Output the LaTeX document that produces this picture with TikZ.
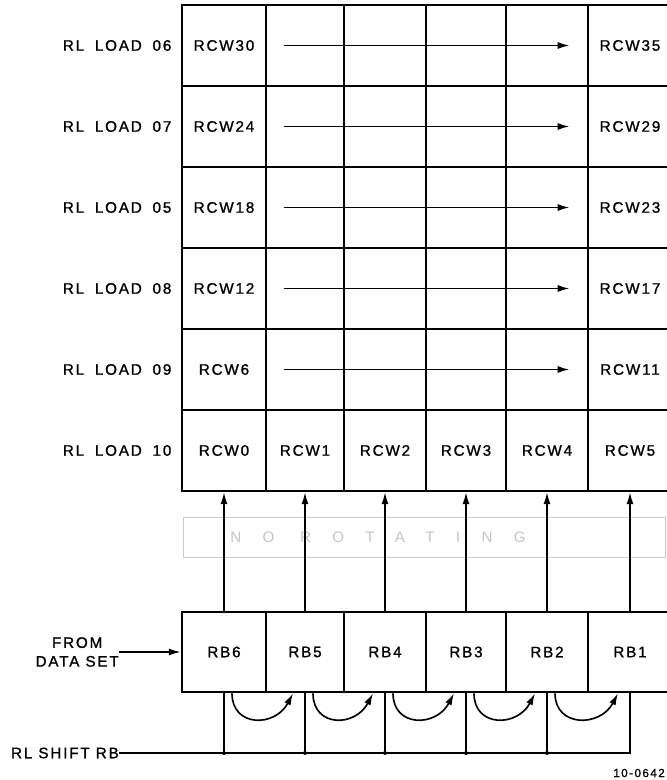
\documentclass[tikz,border=0pt]{standalone}
\usepackage{fontspec}
\usepackage{tikz}
\usetikzlibrary{arrows.meta,calc}
\newfontfamily\lblfont[LetterSpace=12,FakeBold=1.2]{Liberation Sans}
\newfontfamily\bandfont[LetterSpace=140]{Liberation Sans}

\begin{document}
\begin{tikzpicture}[x=0.03cm,y=-0.03cm,
  cell/.style={draw, line width=2.4pt, minimum height=2.43cm, inner sep=0pt,
    font=\lblfont\fontsize{13}{15}\selectfont},
  lbl/.style={inner sep=0pt, font=\lblfont\fontsize{13}{15}\selectfont},
  wire/.style={line width=1.4pt},
  arr/.style={line width=1.4pt, -{Latex[length=10pt,width=6pt]}}]
\useasboundingbox (0,0) rectangle (666,780);
% faint band between the registers
\node[draw=gray!40, line width=0.8pt, minimum width=14.46cm, minimum height=1.2cm] (band) at (424,537) {};
\node[inner sep=0pt, text=gray!45, font=\bandfont\fontsize{13}{15}\selectfont] (bandtxt) at (378,537) {NO ROTATING};
% RCW grid, top row first
\node[cell, minimum width=2.52cm] (rcw30) at (224,45.5) {RCW30};
\node[cell, minimum width=2.34cm] (rcw31) at (305,45.5) {};
\node[cell, minimum width=2.46cm] (rcw32) at (385,45.5) {};
\node[cell, minimum width=2.40cm] (rcw33) at (466,45.5) {};
\node[cell, minimum width=2.46cm] (rcw34) at (547,45.5) {};
\node[cell, minimum width=2.52cm] (rcw35) at (630,45.5) {RCW35};
\node[cell, minimum width=2.52cm] (rcw24) at (224,126.5) {RCW24};
\node[cell, minimum width=2.34cm] (rcw25) at (305,126.5) {};
\node[cell, minimum width=2.46cm] (rcw26) at (385,126.5) {};
\node[cell, minimum width=2.40cm] (rcw27) at (466,126.5) {};
\node[cell, minimum width=2.46cm] (rcw28) at (547,126.5) {};
\node[cell, minimum width=2.52cm] (rcw29) at (630,126.5) {RCW29};
\node[cell, minimum width=2.52cm] (rcw18) at (224,207.5) {RCW18};
\node[cell, minimum width=2.34cm] (rcw19) at (305,207.5) {};
\node[cell, minimum width=2.46cm] (rcw20) at (385,207.5) {};
\node[cell, minimum width=2.40cm] (rcw21) at (466,207.5) {};
\node[cell, minimum width=2.46cm] (rcw22) at (547,207.5) {};
\node[cell, minimum width=2.52cm] (rcw23) at (630,207.5) {RCW23};
\node[cell, minimum width=2.52cm] (rcw12) at (224,288.5) {RCW12};
\node[cell, minimum width=2.34cm] (rcw13) at (305,288.5) {};
\node[cell, minimum width=2.46cm] (rcw14) at (385,288.5) {};
\node[cell, minimum width=2.40cm] (rcw15) at (466,288.5) {};
\node[cell, minimum width=2.46cm] (rcw16) at (547,288.5) {};
\node[cell, minimum width=2.52cm] (rcw17) at (630,288.5) {RCW17};
\node[cell, minimum width=2.52cm] (rcw6) at (224,369.5) {RCW6};
\node[cell, minimum width=2.34cm] (rcw7) at (305,369.5) {};
\node[cell, minimum width=2.46cm] (rcw8) at (385,369.5) {};
\node[cell, minimum width=2.40cm] (rcw9) at (466,369.5) {};
\node[cell, minimum width=2.46cm] (rcw10) at (547,369.5) {};
\node[cell, minimum width=2.52cm] (rcw11) at (630,369.5) {RCW11};
\node[cell, minimum width=2.52cm] (rcw0) at (224,450.5) {RCW0};
\node[cell, minimum width=2.34cm] (rcw1) at (305,450.5) {RCW1};
\node[cell, minimum width=2.46cm] (rcw2) at (385,450.5) {RCW2};
\node[cell, minimum width=2.40cm] (rcw3) at (466,450.5) {RCW3};
\node[cell, minimum width=2.46cm] (rcw4) at (547,450.5) {RCW4};
\node[cell, minimum width=2.52cm] (rcw5) at (630,450.5) {RCW5};
% load strobes
\node[lbl, anchor=east] (load06) at ($(rcw30.west)+(-9,0)$) {RL\hspace{4pt} LOAD\hspace{4pt} 06};
\node[lbl, anchor=east] (load07) at ($(rcw24.west)+(-9,0)$) {RL\hspace{4pt} LOAD\hspace{4pt} 07};
\node[lbl, anchor=east] (load05) at ($(rcw18.west)+(-9,0)$) {RL\hspace{4pt} LOAD\hspace{4pt} 05};
\node[lbl, anchor=east] (load08) at ($(rcw12.west)+(-9,0)$) {RL\hspace{4pt} LOAD\hspace{4pt} 08};
\node[lbl, anchor=east] (load09) at ($(rcw6.west)+(-9,0)$) {RL\hspace{4pt} LOAD\hspace{4pt} 09};
\node[lbl, anchor=east] (load10) at ($(rcw0.west)+(-9,0)$) {RL\hspace{4pt} LOAD\hspace{4pt} 10};
% row arrows
\draw[arr] ($(rcw31.west)+(19,0)$) -- ($(rcw34.east)+(-20,0)$);
\draw[arr] ($(rcw25.west)+(19,0)$) -- ($(rcw28.east)+(-20,0)$);
\draw[arr] ($(rcw19.west)+(19,0)$) -- ($(rcw22.east)+(-20,0)$);
\draw[arr] ($(rcw13.west)+(19,0)$) -- ($(rcw16.east)+(-20,0)$);
\draw[arr] ($(rcw7.west)+(19,0)$) -- ($(rcw10.east)+(-20,0)$);
% RB register
\node[cell, minimum height=2.40cm, minimum width=2.52cm] (rb6) at (224,652) {RB6};
\node[cell, minimum height=2.40cm, minimum width=2.34cm] (rb5) at (305,652) {RB5};
\node[cell, minimum height=2.40cm, minimum width=2.46cm] (rb4) at (385,652) {RB4};
\node[cell, minimum height=2.40cm, minimum width=2.40cm] (rb3) at (466,652) {RB3};
\node[cell, minimum height=2.40cm, minimum width=2.46cm] (rb2) at (547,652) {RB2};
\node[cell, minimum height=2.40cm, minimum width=2.52cm] (rb1) at (630,652) {RB1};
% RB to RCW
\draw[arr] (rb6.north) -- (rcw0.south);
\draw[arr] (rb5.north) -- (rcw1.south);
\draw[arr] (rb4.north) -- (rcw2.south);
\draw[arr] (rb3.north) -- (rcw3.south);
\draw[arr] (rb2.north) -- (rcw4.south);
\draw[arr] (rb1.north) -- (rcw5.south);
% data in
\node[lbl, anchor=east, align=center] (datain) at (119,652) {FROM\\[1pt]DATA SET};
\draw[arr] (datain.east) -- (rb6.west);
% shift
\node[lbl, anchor=east] (shift) at (119,753) {RL SHIFT RB};
\draw[wire] (shift.east) -- (rb1.south |- shift.east) -- (rb1.south);
\draw[wire] (rb6.south) -- (rb6.south |- shift.east);
\draw[wire] (rb5.south) -- (rb5.south |- shift.east);
\draw[wire] (rb4.south) -- (rb4.south |- shift.east);
\draw[wire] (rb3.south) -- (rb3.south |- shift.east);
\draw[wire] (rb2.south) -- (rb2.south |- shift.east);
\fill (rb6.south |- shift.east) circle (1.7pt);
\fill (rb5.south |- shift.east) circle (1.7pt);
\fill (rb4.south |- shift.east) circle (1.7pt);
\fill (rb3.south |- shift.east) circle (1.7pt);
\fill (rb2.south |- shift.east) circle (1.7pt);
\draw[arr] ($(rb6.south)+(8,0)$) .. controls ($(rb6.south)+(8,34)$) and ($(rb5.south)+(-30,34)$) .. ($(rb5.south)+(-12,0)$);
\draw[arr] ($(rb5.south)+(8,0)$) .. controls ($(rb5.south)+(8,34)$) and ($(rb4.south)+(-30,34)$) .. ($(rb4.south)+(-12,0)$);
\draw[arr] ($(rb4.south)+(8,0)$) .. controls ($(rb4.south)+(8,34)$) and ($(rb3.south)+(-30,34)$) .. ($(rb3.south)+(-12,0)$);
\draw[arr] ($(rb3.south)+(8,0)$) .. controls ($(rb3.south)+(8,34)$) and ($(rb2.south)+(-30,34)$) .. ($(rb2.south)+(-12,0)$);
\draw[arr] ($(rb2.south)+(8,0)$) .. controls ($(rb2.south)+(8,34)$) and ($(rb1.south)+(-30,34)$) .. ($(rb1.south)+(-12,0)$);
% figure number
\node[inner sep=0pt, anchor=east, font=\lblfont\fontsize{10}{12}\selectfont] (fignum) at (665,773) {10-0642};
\end{tikzpicture}
\end{document}
